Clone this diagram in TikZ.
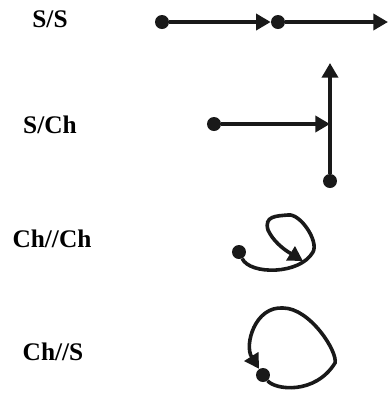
\documentclass[tikz,border=0pt]{standalone}
\usepackage{fontspec}
\setmainfont{Liberation Serif}
\usepackage{tikz}
\usetikzlibrary{arrows.meta}

\begin{document}
\begin{tikzpicture}[x=0.75pt,y=-0.75pt,
        dot/.style = {circle, fill=black!90, minimum size=10.5pt, inner sep=0pt},
        conn/.style = {line width=2.7pt, black!90},
        arr/.style = {conn, -{Triangle[length=11pt,width=12pt]}},
        lbl/.style = {anchor=base, font=\fontsize{19}{22}\selectfont\bfseries},]
        \useasboundingbox (0,0) rectangle (389,394);

        % labels
        \node[lbl] (l1) at (50,27) {S/S};
        \node[lbl] (l2) at (50,133) {S/Ch};
        \node[lbl] (l3) at (52,247) {Ch//Ch};
        \node[lbl] (l4) at (53,360) {Ch//S};

        % S/S
        \node[dot] (a1) at (162,22) {};
        \node[dot] (b1) at (278,22) {};
        \coordinate (e1) at (388,22);
        \draw[arr] (a1) -- (b1);
        \draw[arr] (b1) -- (e1);

        % S/Ch
        \node[dot] (a2) at (214,124) {};
        \node[dot] (b2) at (330,181) {};
        \coordinate (e2) at (330,63);
        \coordinate (j2) at (330,124);
        \draw[arr] (b2) -- (e2);
        \draw[arr] (a2) -- (j2);

        % Ch//Ch
        \node[dot] (a3) at (239,252) {};
        \coordinate (e3) at (303,261);
        \draw[arr] (a3) .. controls (250,275) and (300,275) .. (313,252)
            .. controls (319,241) and (300,213) .. (288,215)
            .. controls (276,216) and (264,216) .. (268,230)
            .. controls (275,245) and (290,253) .. (e3);

        % Ch//S
        \node[dot] (a4) at (263,375) {};
        \draw[arr] (a4) .. controls (275,390) and (315,395) .. (335,363)
            .. controls (338,352) and (310,308) .. (283,308)
            .. controls (255,306) and (244,345) .. (a4);
    \end{tikzpicture}
\end{document}
